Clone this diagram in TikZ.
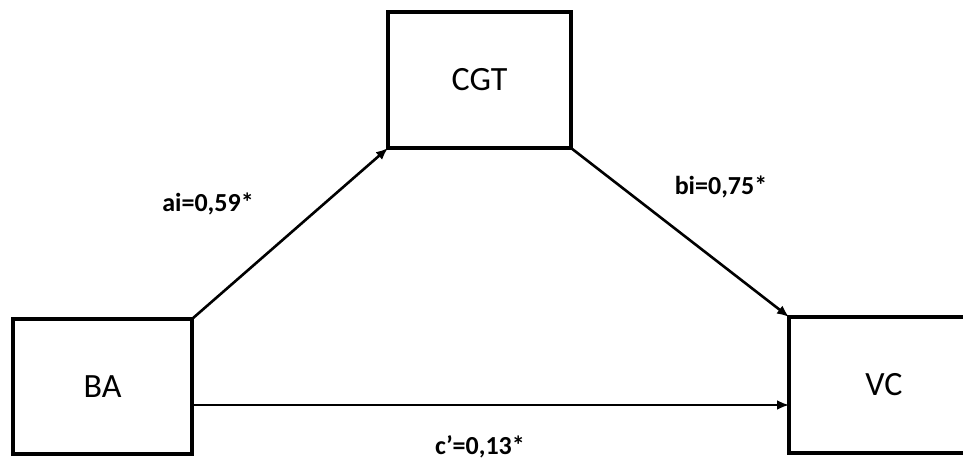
\documentclass[tikz,border=0pt]{standalone}
\usepackage{fontspec}
\setmainfont{Carlito}
\usetikzlibrary{arrows.meta}

\begin{document}
\begin{tikzpicture}[
      x=1pt, y=1pt,
      var/.style={draw, line width=3.5pt, outer sep=0pt, font=\fontsize{34}{38}\selectfont},
      effect/.style={draw, line width=2.6pt, -{Latex[length=12pt,width=10pt]}},
      coef/.style={font=\fontsize{26}{30}\selectfont\bfseries}
    ]
      \clip (0,0) rectangle (963,460);
      % the three variables
      \node[var, minimum width=179, minimum height=135] (ba) at (102.5,73.5) {BA};
      \node[var, minimum width=183, minimum height=136] (cgt) at (479.5,380) {CGT};
      \node[var, minimum width=190, minimum height=136] (vc) at (884,75) {VC};
      % paths with coefficients
      \coordinate (baout) at ([yshift=-18.5]ba.east);
      \coordinate (vcin) at (baout -| vc.west);
      \draw[effect] (ba.north east) -- (cgt.south west);
      \draw[effect] (cgt.south east) -- (vc.north west);
      \draw[effect] (baout) -- (vcin);
      \node[coef] (ai) at (208,256) {ai=0,59*};
      \node[coef] (bi) at (721,273) {bi=0,75*};
      \node[coef] (c) at (480,13) {c’=0,13*};
    \end{tikzpicture}
\end{document}
